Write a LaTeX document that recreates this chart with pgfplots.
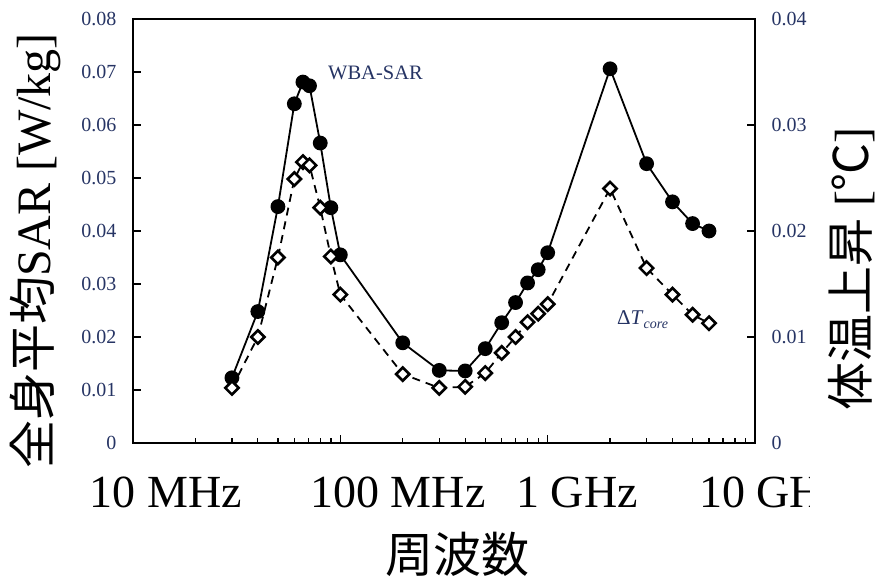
\documentclass[border=0pt]{standalone}
\usepackage{fontspec}
\setmainfont{Liberation Serif}
\newfontfamily\cjk{Noto Sans CJK JP}
\usepackage{pgfplots}
\usepackage{pgfplotstable}
\pgfplotsset{compat=1.18}

\definecolor{labelblue}{RGB}{38,52,100}

% whole-body averaged SAR [W/kg] versus frequency [MHz]
\pgfplotstableread{
f     sar
30    0.0123
40    0.0248
50    0.0446
60    0.0640
66    0.0681
71    0.0674
80    0.0566
90    0.0444
100   0.0355
200   0.0189
300   0.0137
400   0.0136
500   0.0178
600   0.0227
700   0.0265
800   0.0302
900   0.0327
1000  0.0359
2000  0.0706
3000  0.0527
4000  0.0455
5000  0.0414
6000  0.0400
}\sartable

% core temperature rise [degC] versus frequency [MHz]
\pgfplotstableread{
f     dt
30    0.0052
40    0.0100
50    0.0175
60    0.0249
66    0.0265
71    0.0262
80    0.0222
90    0.0176
100   0.0140
200   0.0065
300   0.0052
400   0.0053
500   0.0066
600   0.0085
700   0.0100
800   0.0114
900   0.0122
1000  0.0131
2000  0.0240
3000  0.0165
4000  0.0140
5000  0.0121
6000  0.0113
}\dttable

\pgfplotsset{
  freqaxis/.style={
    scale only axis,
    width=622pt, height=424pt,
    at={(133pt,141pt)}, anchor=south west,
    xmin=10, xmax=10000,
    xtick={10,100,1000,10000}, xticklabels={},
    minor xtick={20,30,40,50,60,70,80,90,200,300,400,500,600,700,800,900,
                 2000,3000,4000,5000,6000,7000,8000,9000},
    axis line style={line width=2pt},
    tick style={line width=1.3pt, black},
    tick align=inside,
    major tick length=8pt, minor tick length=5pt,
    scaled y ticks=false,
    yticklabel style={font=\fontsize{20}{20}\selectfont, text=labelblue,
      /pgf/number format/fixed, /pgf/number format/precision=2},
    /pgf/number format/assume math mode=true,
  },
}

\begin{document}
\begin{tikzpicture}
\useasboundingbox (0,0) rectangle (885pt,584pt);

\begin{semilogxaxis}[freqaxis,
  ymin=0, ymax=0.08,
  ytick={0,0.01,0.02,0.03,0.04,0.05,0.06,0.07,0.08},
  xtick pos=bottom, ytick pos=left,
  yticklabel style={xshift=-13pt},
]
\addplot[black, line width=1.8pt, mark=*, mark size=6.5pt,
  mark options={solid, fill=black}] table[x=f, y=sar] {\sartable};
\end{semilogxaxis}

\begin{semilogxaxis}[freqaxis,
  ymin=0, ymax=0.04,
  ytick={0,0.01,0.02,0.03,0.04},
  axis x line=none, axis y line*=right,
  ytick pos=right,
  yticklabel style={xshift=13pt},
]
\addplot[black, line width=1.8pt, dash pattern=on 8pt off 6pt,
  mark=square*, mark size=4.7pt,
  mark options={solid, rotate=45, fill=white, line width=2.6pt}]
  table[x=f, y=dt] {\dttable};
\end{semilogxaxis}

% series labels
\node[anchor=base west, inner sep=0pt, text=labelblue,
  font=\fontsize{20.5}{20.5}\selectfont] at (328pt,504pt) {WBA-SAR};
\node[anchor=base west, inner sep=0pt, text=labelblue,
  font=\fontsize{21}{21}\selectfont] at (617pt,259pt)
  {Δ\textit{T}\raisebox{-0.35ex}{\fontsize{14}{14}\selectfont\textit{core}}};

% frequency labels
\node[anchor=base, inner sep=0pt, font=\fontsize{46}{46}\selectfont]
  at (166pt,77pt) {10 MHz};
\node[anchor=base, inner sep=0pt, font=\fontsize{46}{46}\selectfont]
  at (398pt,77pt) {100 MHz};
\node[anchor=base, inner sep=0pt, font=\fontsize{46}{46}\selectfont]
  at (577pt,77pt) {1 GHz};
\begin{scope}
  \clip (600pt,0pt) rectangle (809pt,140pt);
  \node[anchor=base west, inner sep=0pt, font=\fontsize{46}{46}\selectfont]
    at (699pt,77pt) {10 GHz};
\end{scope}

% axis titles
\node[inner sep=0pt, font=\fontsize{48}{48}\selectfont] at (457pt,30pt)
  {\cjk 周波数};
\node[inner sep=0pt, rotate=90, font=\fontsize{48}{48}\selectfont]
  at (35pt,333pt) {{\cjk 全身平均}SAR [W/kg]};
\node[inner sep=0pt, rotate=90, font=\fontsize{48}{48}\selectfont]
  at (852pt,315pt) {{\cjk 体温上昇} [{\cjk ℃}]};
\end{tikzpicture}
\end{document}
